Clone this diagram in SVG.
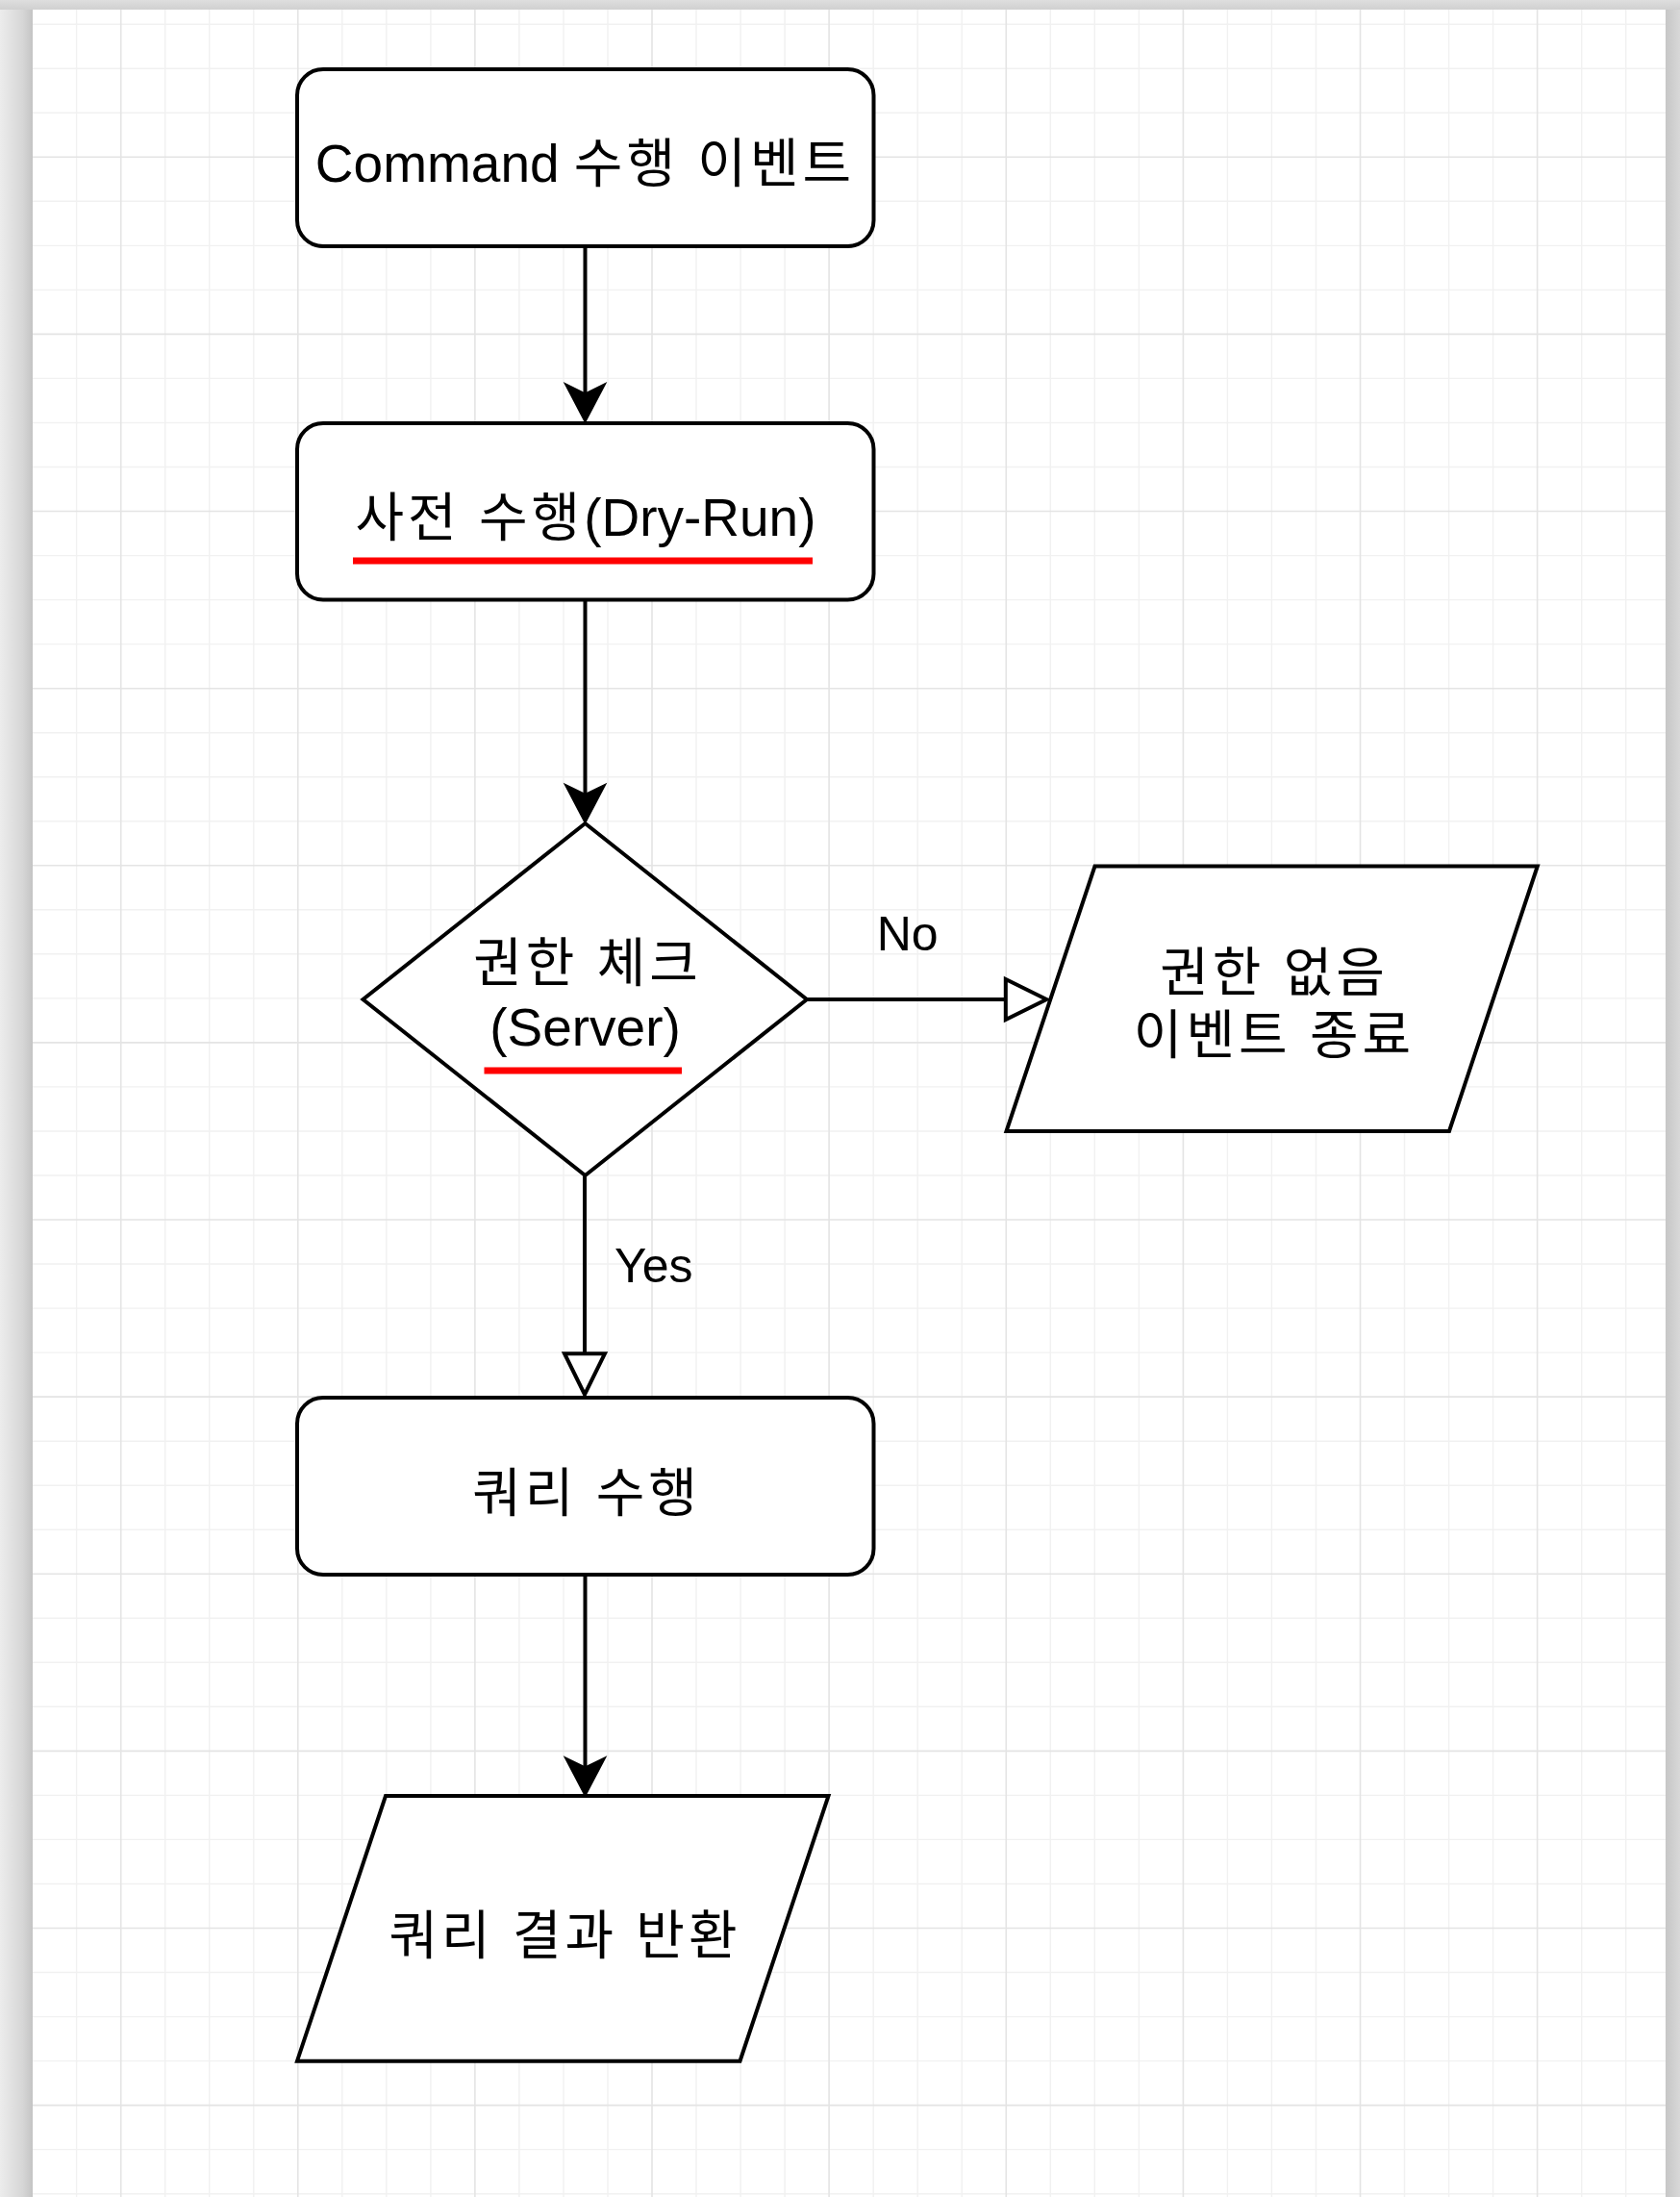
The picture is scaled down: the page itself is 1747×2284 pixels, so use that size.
<svg xmlns="http://www.w3.org/2000/svg" width="1747" height="2284" viewBox="0 0 1747 2284">
  <defs>
    <style>
      .grid-minor { stroke: #f1f1f1; stroke-width: 1.4; fill: none; }
      .grid-major { stroke: #e4e4e4; stroke-width: 1.6; fill: none; }
      .shape { fill: #ffffff; stroke: #000000; stroke-width: 4; stroke-linejoin: miter; }
      .edge { fill: none; stroke: #000000; stroke-width: 4; }
      .label { font-family: "Liberation Sans", "Noto Sans CJK KR", sans-serif; font-size: 55px; fill: #000000; text-anchor: middle; }
      .edge-label { font-family: "Liberation Sans", "Noto Sans CJK KR", sans-serif; font-size: 50px; fill: #000000; text-anchor: middle; }
      .ko { letter-spacing: 4px; }
      .mark { fill: #ff0000; }
    </style>
    <linearGradient id="leftShade" x1="0" y1="0" x2="1" y2="0">
      <stop offset="0" stop-color="#ececec"/>
      <stop offset="0.7" stop-color="#d6d6d6"/>
      <stop offset="1" stop-color="#c4c4c4"/>
    </linearGradient>
    <linearGradient id="rightShade" x1="0" y1="0" x2="1" y2="0">
      <stop offset="0" stop-color="#c6c6c6"/>
      <stop offset="1" stop-color="#d8d8d8"/>
    </linearGradient>
    <linearGradient id="topShade" x1="0" y1="0" x2="0" y2="1">
      <stop offset="0" stop-color="#dedede"/>
      <stop offset="1" stop-color="#d0d0d0"/>
    </linearGradient>
    <!-- filled notched arrowhead; reference point is the notch -->
    <marker id="arrowFilled" markerUnits="userSpaceOnUse" viewBox="-12 -24 44 48" markerWidth="44" markerHeight="48" refX="0" refY="0" orient="auto" overflow="visible">
      <path d="M-10,-20.5 L29,0 L-10,20.5 L0,0 Z" fill="#000000" stroke="#000000" stroke-width="2" stroke-linejoin="miter"/>
    </marker>
    <!-- open triangle arrowhead; reference point is its base -->
    <marker id="arrowOpen" markerUnits="userSpaceOnUse" viewBox="-4 -26 50 52" markerWidth="50" markerHeight="52" refX="0" refY="0" orient="auto" overflow="visible">
      <path d="M0,-21 L42.5,0 L0,21 Z" fill="#ffffff" stroke="#000000" stroke-width="4" stroke-linejoin="miter"/>
    </marker>
  </defs>

  <!-- page and surrounding frame -->
  <rect x="0" y="0" width="1747" height="2284" fill="#ffffff"/>
  <rect x="0" y="0" width="34" height="2284" fill="url(#leftShade)"/>
  <rect x="1732" y="0" width="15" height="2284" fill="url(#rightShade)"/>
  <rect x="0" y="0" width="1747" height="10" fill="url(#topShade)"/>

  <!-- background grid -->
  <g id="grid">
    <path class="grid-minor" d="M79.6,10V2284 M171.7,10V2284 M217.7,10V2284 M263.8,10V2284 M355.8,10V2284 M401.8,10V2284 M447.9,10V2284 M539.9,10V2284 M586,10V2284 M632,10V2284 M724,10V2284 M770.1,10V2284 M816.1,10V2284 M908.2,10V2284 M954.2,10V2284 M1000.2,10V2284 M1092.3,10V2284 M1138.3,10V2284 M1184.4,10V2284 M1276.4,10V2284 M1322.4,10V2284 M1368.5,10V2284 M1460.5,10V2284 M1506.6,10V2284 M1552.6,10V2284 M1644.7,10V2284 M1690.7,10V2284
      M34,25.2H1732 M34,71.2H1732 M34,117.3H1732 M34,209.3H1732 M34,255.4H1732 M34,301.4H1732 M34,393.4H1732 M34,439.5H1732 M34,485.5H1732 M34,577.6H1732 M34,623.6H1732 M34,669.6H1732 M34,761.7H1732 M34,807.7H1732 M34,853.7H1732 M34,945.8H1732 M34,991.8H1732 M34,1037.9H1732 M34,1129.9H1732 M34,1176H1732 M34,1222H1732 M34,1314H1732 M34,1360.1H1732 M34,1406.1H1732 M34,1498.2H1732 M34,1544.2H1732 M34,1590.2H1732 M34,1682.3H1732 M34,1728.3H1732 M34,1774.3H1732 M34,1866.4H1732 M34,1912.4H1732 M34,1958.5H1732 M34,2050.5H1732 M34,2096.6H1732 M34,2142.6H1732 M34,2234.6H1732 M34,2280.7H1732"/>
    <path class="grid-major" d="M125.7,10V2284 M309.8,10V2284 M493.9,10V2284 M678,10V2284 M862.1,10V2284 M1046.3,10V2284 M1230.4,10V2284 M1414.5,10V2284 M1598.6,10V2284
      M34,163.3H1732 M34,347.4H1732 M34,531.5H1732 M34,715.7H1732 M34,899.8H1732 M34,1083.9H1732 M34,1268H1732 M34,1452.1H1732 M34,1636.3H1732 M34,1820.4H1732 M34,2004.5H1732 M34,2188.6H1732"/>
  </g>

  <!-- connectors -->
  <g id="connectors">
    <path class="edge" d="M608.5,256V409.3" marker-end="url(#arrowFilled)"/>
    <path class="edge" d="M608.5,623.5V826" marker-end="url(#arrowFilled)"/>
    <path class="edge" d="M839,1039H1045.8" marker-end="url(#arrowOpen)"/>
    <text class="edge-label" x="943.7" y="988.3">No</text>
    <path class="edge" d="M608,1222V1407.2" marker-end="url(#arrowOpen)"/>
    <text class="edge-label" x="679.7" y="1332.7">Yes</text>
    <path class="edge" d="M608.5,1637V1837.5" marker-end="url(#arrowFilled)"/>
  </g>

  <!-- start event -->
  <g id="node-command">
    <rect class="shape" x="309" y="72" width="599.5" height="184" rx="27" ry="27"/>
    <text class="label" x="608.5" y="188.5">Command <tspan class="ko">수행 이벤트</tspan></text>
  </g>

  <!-- dry run step -->
  <g id="node-dryrun">
    <rect class="shape" x="309" y="440" width="599.5" height="183.5" rx="27" ry="27"/>
    <text class="label" x="609" y="557"><tspan class="ko">사전 수행</tspan>(Dry-Run)</text>
    <rect class="mark" x="367" y="579.5" width="478" height="7"/>
  </g>

  <!-- permission decision -->
  <g id="node-check">
    <polygon class="shape" points="608.5,856 839,1039 608.5,1222 377.5,1039"/>
    <text class="label ko" x="611" y="1020">권한 체크</text>
    <text class="label" x="608.5" y="1087">(Server)</text>
    <rect class="mark" x="503.5" y="1109.5" width="205.5" height="7"/>
  </g>

  <!-- denied output -->
  <g id="node-denied">
    <polygon class="shape" points="1138.5,900.5 1598.8,900.5 1507,1176 1046.5,1176"/>
    <text class="label ko" x="1325" y="1030">권한 없음</text>
    <text class="label ko" x="1325" y="1095">이벤트 종료</text>
  </g>

  <!-- query execution -->
  <g id="node-query">
    <rect class="shape" x="309" y="1453" width="599.5" height="184" rx="27" ry="27"/>
    <text class="label ko" x="610" y="1571">쿼리 수행</text>
  </g>

  <!-- result output -->
  <g id="node-result">
    <polygon class="shape" points="401,1867 861.5,1867 769.5,2142.7 309,2142.7"/>
    <text class="label ko" x="587.5" y="2031">쿼리 결과 반환</text>
  </g>
</svg>
